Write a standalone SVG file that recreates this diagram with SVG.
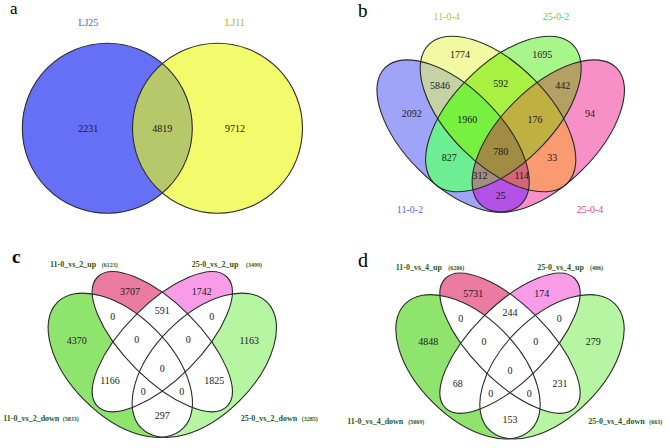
<svg xmlns="http://www.w3.org/2000/svg" xmlns:xlink="http://www.w3.org/1999/xlink" width="669" height="448" viewBox="0 0 669 448">
<style>
.ol{fill:none;stroke:#2a2a2a;stroke-width:1.1}
.num{font-family:"Liberation Serif","Times New Roman",serif;font-size:10px;fill:#1a1a1a;text-anchor:middle}
.pl{font-family:"Liberation Serif","Times New Roman",serif;fill:#000}
.set{font-family:"Liberation Serif","Times New Roman",serif;font-size:10px;text-anchor:middle}
.grp{font-family:"Liberation Serif","Times New Roman",serif;font-size:8px;font-weight:bold;fill:#2a5a22}
.cnt{font-family:"Liberation Serif","Times New Roman",serif;font-size:6px;font-weight:bold;fill:#2a5a22}
</style>
<defs>
<ellipse id="bA" cx="0" cy="0" rx="96.4" ry="48" transform="translate(453.1,136) rotate(45)"/>
<ellipse id="bB" cx="0" cy="0" rx="98" ry="50" transform="translate(498,114) rotate(45)"/>
<ellipse id="bC" cx="0" cy="0" rx="98" ry="50" transform="translate(503.4,114) rotate(-45)"/>
<ellipse id="bD" cx="0" cy="0" rx="96.4" ry="48" transform="translate(548.3,136) rotate(-45)"/>
<clipPath id="kbA"><use href="#bA"/></clipPath>
<clipPath id="kbB"><use href="#bB"/></clipPath>
<clipPath id="kbC"><use href="#bC"/></clipPath>
<ellipse id="cA" cx="0" cy="0" rx="89" ry="50" transform="translate(120.3,365.3) rotate(45)"/>
<ellipse id="cB" cx="0" cy="0" rx="91.5" ry="37.7" transform="translate(162.3,341.7) rotate(45)"/>
<ellipse id="cC" cx="0" cy="0" rx="91.5" ry="37.7" transform="translate(162.3,341.7) rotate(-45)"/>
<ellipse id="cD" cx="0" cy="0" rx="89" ry="50" transform="translate(204.3,365.3) rotate(-45)"/>
<clipPath id="kcA"><use href="#cA"/></clipPath>
<clipPath id="kcB"><use href="#cB"/></clipPath>
<clipPath id="kcC"><use href="#cC"/></clipPath>
<ellipse id="dA" cx="0" cy="0" rx="89" ry="50" transform="translate(468,366.8) rotate(45)"/>
<ellipse id="dB" cx="0" cy="0" rx="91.5" ry="37.7" transform="translate(510,343.2) rotate(45)"/>
<ellipse id="dC" cx="0" cy="0" rx="91.5" ry="37.7" transform="translate(510,343.2) rotate(-45)"/>
<ellipse id="dD" cx="0" cy="0" rx="89" ry="50" transform="translate(552,366.8) rotate(-45)"/>
<clipPath id="kdA"><use href="#dA"/></clipPath>
<clipPath id="kdB"><use href="#dB"/></clipPath>
<clipPath id="kdC"><use href="#dC"/></clipPath>
<clipPath id="kaL"><circle cx="107.3" cy="128.3" r="85"/></clipPath>
</defs>
<rect width="669" height="448" fill="#fff"/>

<g id="panel-a">
<text class="pl" x="10" y="13.5" font-size="17">a</text>
<circle cx="107.3" cy="128.3" r="85" fill="#6670F7"/>
<circle cx="217.5" cy="128.3" r="85" fill="#F2FB6C"/>
<circle cx="217.5" cy="128.3" r="85" fill="#B6C86A" clip-path="url(#kaL)"/>
<circle class="ol" cx="107.3" cy="128.3" r="85"/>
<circle class="ol" cx="217.5" cy="128.3" r="85"/>
<text class="set" x="88.3" y="26" font-size="11" fill="#5560F0">LJ25</text>
<text class="set" x="235" y="26" font-size="11" fill="#A6B428">LJ11</text>
<text class="num" x="88.3" y="131.8">2231</text>
<text class="num" x="162.3" y="131.8">4819</text>
<text class="num" x="235" y="131.8">9712</text>
</g>

<g id="panel-b">
<text class="pl" x="358" y="16.7" font-size="19">b</text>
<use href="#bA" fill="#A0A4F8"/>
<use href="#bB" fill="#F2F9A2"/>
<use href="#bC" fill="#A8F58A"/>
<use href="#bD" fill="#F890C8"/>
<g clip-path="url(#kbA)"><use href="#bB" fill="#C4D2A6"/></g>
<g clip-path="url(#kbA)"><use href="#bC" fill="#6EEE92"/></g>
<g clip-path="url(#kbA)"><use href="#bD" fill="#B452E8"/></g>
<g clip-path="url(#kbB)"><use href="#bC" fill="#A8F042"/></g>
<g clip-path="url(#kbB)"><use href="#bD" fill="#FA9A70"/></g>
<g clip-path="url(#kbC)"><use href="#bD" fill="#B4A062"/></g>
<g clip-path="url(#kbA)"><g clip-path="url(#kbB)"><use href="#bC" fill="#78F040"/></g></g>
<g clip-path="url(#kbA)"><g clip-path="url(#kbB)"><use href="#bD" fill="#D06878"/></g></g>
<g clip-path="url(#kbA)"><g clip-path="url(#kbC)"><use href="#bD" fill="#A08E80"/></g></g>
<g clip-path="url(#kbB)"><g clip-path="url(#kbC)"><use href="#bD" fill="#C0B042"/></g></g>
<g clip-path="url(#kbA)"><g clip-path="url(#kbB)"><g clip-path="url(#kbC)"><use href="#bD" fill="#A08C42"/></g></g></g>
<use href="#bA" class="ol"/>
<use href="#bB" class="ol"/>
<use href="#bC" class="ol"/>
<use href="#bD" class="ol"/>
<text class="set" x="446.7" y="19.5" fill="#B5BE3C">11-0-4</text>
<text class="set" x="556" y="19.5" fill="#58D048">25-0-2</text>
<text class="set" x="410" y="212.5" fill="#6262EE">11-0-2</text>
<text class="set" x="590" y="212.5" fill="#E0448E">25-0-4</text>
<text class="num" x="460" y="57.5">1774</text>
<text class="num" x="542.3" y="57.5" fill="#2f6a20">1695</text>
<text class="num" x="440" y="88.5">5846</text>
<text class="num" x="500.7" y="86.8" fill="#3a9a20">592</text>
<text class="num" x="562.7" y="88.5">442</text>
<text class="num" x="411.7" y="116.8" fill="#3535c8">2092</text>
<text class="num" x="467.3" y="122.8" fill="#1e5a10">1960</text>
<text class="num" x="535" y="122.8">176</text>
<text class="num" x="590" y="116.8">94</text>
<text class="num" x="449.3" y="160.8">827</text>
<text class="num" x="500.7" y="154.5">780</text>
<text class="num" x="552.3" y="160.8">33</text>
<text class="num" x="480" y="178.8">312</text>
<text class="num" x="521.7" y="178.8">114</text>
<text class="num" x="500.7" y="199.2">25</text>
</g>

<g id="panel-c">
<text class="pl" x="12" y="263.3" font-size="19" font-weight="bold">c</text>
<use href="#cA" fill="#8EE46C"/>
<use href="#cB" fill="#EB7BA0"/>
<use href="#cC" fill="#F99CE8"/>
<use href="#cD" fill="#B6F5A2"/>
<g clip-path="url(#kcA)"><use href="#cB" fill="#fff"/><use href="#cC" fill="#fff"/><use href="#cD" fill="#fff"/></g>
<g clip-path="url(#kcB)"><use href="#cC" fill="#fff"/><use href="#cD" fill="#fff"/></g>
<g clip-path="url(#kcC)"><use href="#cD" fill="#fff"/></g>
<use href="#cA" class="ol"/>
<use href="#cB" class="ol"/>
<use href="#cC" class="ol"/>
<use href="#cD" class="ol"/>
<text class="grp" x="50" y="267">11-0_vs_2_up</text>
<text class="cnt" x="101.7" y="267">(6123)</text>
<text class="grp" x="191.7" y="267">25-0_vs_2_up</text>
<text class="cnt" x="246" y="267">(3499)</text>
<text class="grp" x="3.3" y="420.5">11-0_vs_2_down</text>
<text class="cnt" x="62.7" y="420.5">(5833)</text>
<text class="grp" x="240.7" y="420.5">25-0_vs_2_down</text>
<text class="cnt" x="301.7" y="420.5">(3285)</text>
<text class="num" x="130" y="295.2" font-size="11">3707</text>
<text class="num" x="201.7" y="295.2" font-size="11">1742</text>
<text class="num" x="162.3" y="313.5">591</text>
<text class="num" x="112.7" y="319.5">0</text>
<text class="num" x="211.7" y="319.5">0</text>
<text class="num" x="76.7" y="343.5">4370</text>
<text class="num" x="136.7" y="342.8">0</text>
<text class="num" x="188.3" y="342.8">0</text>
<text class="num" x="249.3" y="343.5">1163</text>
<text class="num" x="162.3" y="371.8">0</text>
<text class="num" x="110" y="384.2">1166</text>
<text class="num" x="214.3" y="384.2">1825</text>
<text class="num" x="143.3" y="394.5">0</text>
<text class="num" x="181.7" y="394.5">0</text>
<text class="num" x="162.3" y="418.5">297</text>
</g>

<g id="panel-d">
<text class="pl" x="358" y="266.7" font-size="20">d</text>
<use href="#dA" fill="#8EE46C"/>
<use href="#dB" fill="#EB7BA0"/>
<use href="#dC" fill="#F99CE8"/>
<use href="#dD" fill="#B6F5A2"/>
<g clip-path="url(#kdA)"><use href="#dB" fill="#fff"/><use href="#dC" fill="#fff"/><use href="#dD" fill="#fff"/></g>
<g clip-path="url(#kdB)"><use href="#dC" fill="#fff"/><use href="#dD" fill="#fff"/></g>
<g clip-path="url(#kdC)"><use href="#dD" fill="#fff"/></g>
<use href="#dA" class="ol"/>
<use href="#dB" class="ol"/>
<use href="#dC" class="ol"/>
<use href="#dD" class="ol"/>
<text class="grp" x="395.7" y="270">11-0_vs_4_up</text>
<text class="cnt" x="448.3" y="270">(6206)</text>
<text class="grp" x="537.3" y="270">25-0_vs_4_up</text>
<text class="cnt" x="590" y="270">(486)</text>
<text class="grp" x="347.3" y="423.5">11-0_vs_4_down</text>
<text class="cnt" x="408.3" y="423.5">(5069)</text>
<text class="grp" x="588.3" y="423.5">25-0_vs_4_down</text>
<text class="cnt" x="649.3" y="423.5">(663)</text>
<text class="num" x="473.3" y="296.8" font-size="11">5731</text>
<text class="num" x="541.7" y="296.8" font-size="11">174</text>
<text class="num" x="510" y="316.2">244</text>
<text class="num" x="460.7" y="321.8">0</text>
<text class="num" x="559.3" y="321.8">0</text>
<text class="num" x="428.3" y="345.2">4848</text>
<text class="num" x="484" y="345.2">0</text>
<text class="num" x="535.7" y="345.2">0</text>
<text class="num" x="593.3" y="345.2">279</text>
<text class="num" x="510" y="374.2">0</text>
<text class="num" x="457.7" y="386.8">68</text>
<text class="num" x="560" y="386.8">231</text>
<text class="num" x="490.7" y="396.8">0</text>
<text class="num" x="529.3" y="396.8">0</text>
<text class="num" x="510" y="422.5">153</text>
</g>
</svg>
